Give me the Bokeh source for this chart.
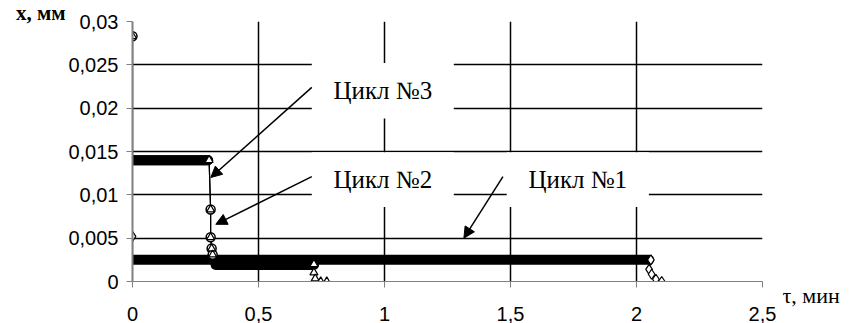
from bokeh.plotting import figure
from bokeh.models import (Range1d, FixedTicker, CustomJSTickFormatter, Label, Arrow, NormalHead,
                          LinearAxis)
from bokeh.embed import file_html
from bokeh.resources import INLINE

# ---- data ----
x_ticks = [0, 0.5, 1, 1.5, 2, 2.5]
y_ticks = [0, 0.005, 0.01, 0.015, 0.02, 0.025, 0.03]
y_title = "x, мм"
x_title = "τ, мин"

# Cycle 1 (diamonds)
c1_x = [0.0, 0.0, 2.05, 2.057, 2.05, 2.06, 2.077, 2.10]
c1_y = [0.0052, 0.0025, 0.0025, 0.0025, 0.0014, 0.00084, 0.00026, 0.0]
c1_mark = [1, 0, 0, 1, 1, 1, 1, 1]
c1_band_x = [0.0, 2.05]
c1_band_y = [0.0025, 0.0025]

# Cycle 2 (circles)
c2_x = [0.0, 0.0, 0.304, 0.31, 0.31, 0.314, 0.318, 0.33, 0.72]
c2_y = [0.0283, 0.014, 0.014, 0.0083, 0.0051, 0.0038, 0.0031, 0.0019, 0.0019]
c2_mark = [1, 0, 0, 1, 1, 1, 1, 0, 0]
c2_band1_x = [0.0, 0.30]
c2_band1_y = [0.014, 0.014]
c2_band2_x = [0.33, 0.72]
c2_band2_y = [0.0019, 0.0019]

# Cycle 3 (triangles)
c3_x = [0.0, 0.0, 0.304, 0.31, 0.31, 0.314, 0.318, 0.33, 0.72, 0.72, 0.725, 0.747, 0.771]
c3_y = [0.0283, 0.014, 0.014, 0.0083, 0.0051, 0.0038, 0.0031, 0.0019, 0.002, 0.00103, 0.00034, 0.0, 0.0]
c3_mark = [1, 0, 1, 1, 1, 1, 1, 0, 1, 1, 1, 1, 1]
c3_band1_x = [0.0, 0.30]
c3_band1_y = [0.014, 0.014]
c3_band2_x = [0.33, 0.72]
c3_band2_y = [0.002, 0.002]

labels = ["Цикл №3", "Цикл №2", "Цикл №1"]

p = figure(width=851, height=323, output_backend="svg", toolbar_location=None,
           x_range=Range1d(0, 2.5), y_range=Range1d(0, 0.03),
           min_border_left=132, min_border_right=89, min_border_top=21, min_border_bottom=41)
p.outline_line_color = None
p.background_fill_color = "white"
p.border_fill_color = "white"

# axes
for ax, ticks in ((p.xaxis[0], x_ticks), (p.yaxis[0], y_ticks)):
    ax.ticker = FixedTicker(ticks=ticks)
    ax.axis_line_color = "#808080"
    ax.major_tick_line_color = "#808080"
    ax.major_tick_out = 6
    ax.major_tick_in = 0
    ax.minor_tick_out = 0
    ax.minor_tick_line_color = None
    ax.major_label_text_font = "Liberation Sans"
    ax.major_label_text_font_size = "20px"
    ax.major_label_text_color = "black"
p.xaxis[0].major_label_standoff = 19
p.yaxis[0].major_label_standoff = 8
p.yaxis[0].axis_line_width = 2
p.xaxis[0].formatter = CustomJSTickFormatter(code="""
    return tick.toFixed(1).replace(/0+$/,'').replace(/\\.$/,'').replace('.',',');""")
p.yaxis[0].formatter = CustomJSTickFormatter(code="""
    return tick.toFixed(3).replace(/0+$/,'').replace(/\\.$/,'').replace('.',',');""")

# axis titles carried by extra label-only axes
ytl = LinearAxis(ticker=FixedTicker(ticks=[y_ticks[-1]]),
                 formatter=CustomJSTickFormatter(args=dict(t=y_title), code="return t + '\\n';"))
ytl.axis_line_color = None
ytl.major_tick_line_color = None
ytl.minor_tick_line_color = None
ytl.major_tick_out = 0
ytl.minor_tick_out = 0
ytl.major_label_standoff = 0
ytl.major_label_text_font = "Liberation Serif"
ytl.major_label_text_font_size = "21px"
ytl.major_label_text_font_style = "bold"
ytl.major_label_text_line_height = 0.8
ytl.major_label_text_color = "black"
p.add_layout(ytl, "left")

xtl = LinearAxis(ticker=FixedTicker(ticks=[y_ticks[0]]),
                 formatter=CustomJSTickFormatter(args=dict(t=x_title), code="return '\\n' + t;"))
xtl.axis_line_color = None
xtl.major_tick_line_color = None
xtl.minor_tick_line_color = None
xtl.major_tick_out = 0
xtl.minor_tick_out = 0
xtl.major_label_standoff = 20
xtl.major_label_text_font = "Liberation Serif"
xtl.major_label_text_font_size = "22px"
xtl.major_label_text_line_height = 1.14
xtl.major_label_text_color = "black"
p.add_layout(xtl, "right")

p.xgrid.ticker = FixedTicker(ticks=x_ticks[1:])
p.ygrid.ticker = FixedTicker(ticks=y_ticks[1:])
for g in (p.xgrid[0], p.ygrid[0]):
    g.grid_line_color = "black"
    g.grid_line_width = 1.5

# label boxes (white, covering grid)
box_left = [0.7115, 0.7115, 1.485]
box_right = [1.275, 1.275, 2.049]
box_top = [0.0252, 0.0149, 0.0149]
box_bottom = [0.0188, 0.0086, 0.0086]
p.quad(left=box_left, right=box_right, top=box_top, bottom=box_bottom,
       fill_color="white", line_color=None)

# bands of dense points
for bx, by in ((c1_band_x, c1_band_y), (c2_band1_x, c2_band1_y), (c2_band2_x, c2_band2_y),
               (c3_band1_x, c3_band1_y), (c3_band2_x, c3_band2_y)):
    p.line(bx, by, line_color="black", line_width=10, line_cap="round")

# series lines
p.line(c1_x, c1_y, line_color="black", line_width=1.2)
p.line(c2_x, c2_y, line_color="black", line_width=1.2)
p.line(c3_x, c3_y, line_color="black", line_width=1.2)

def sel(xs, ys, m):
    return [x for x, k in zip(xs, m) if k], [y for y, k in zip(ys, m) if k]

mx, my = sel(c1_x, c1_y, c1_mark)
p.scatter(mx, my, marker="diamond", size=10, fill_color="white", line_color="black", line_width=1.2)
mx, my = sel(c2_x, c2_y, c2_mark)
p.scatter(mx, my, marker="circle", size=9, fill_color="white", line_color="black", line_width=1.5)
mx, my = sel(c3_x, c3_y, c3_mark)
p.scatter(mx, my, marker="triangle", size=8, fill_color="white", line_color="black", line_width=1.2)

# arrows (callout leaders)
arrows = [((0.7115, 0.0224), (0.3107, 0.0120)),
          ((0.7115, 0.0121), (0.3306, 0.0066)),
          ((1.47, 0.0121), (1.315, 0.0050))]
for (xs, ys), (xe, ye) in arrows:
    p.add_layout(Arrow(end=NormalHead(size=11, fill_color="black", line_color="black"),
                       x_start=xs, y_start=ys, x_end=xe, y_end=ye,
                       line_color="black", line_width=1.5))

for txt, l, r, t, b in zip(labels, box_left, box_right, box_top, box_bottom):
    p.add_layout(Label(x=(l + r) / 2, y=(t + b) / 2, text=txt, text_align="center",
                       text_baseline="middle", text_font="Liberation Serif",
                       text_font_size="25px", text_color="black"))

open("out.html", "w").write(file_html(p, INLINE))
